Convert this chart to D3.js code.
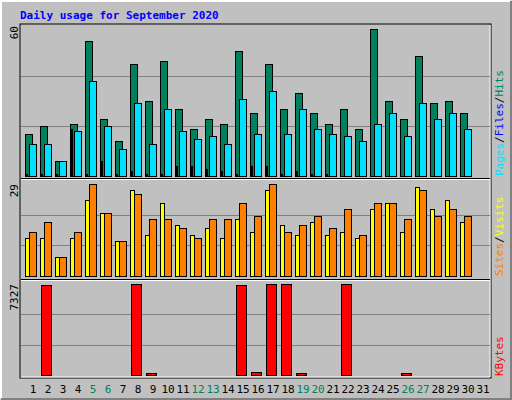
<!DOCTYPE html>
<html>
<head>
<meta charset="UTF-8" />
<script src="https://cdn.jsdelivr.net/npm/d3@7/dist/d3.min.js"></script>
<style>
  body { margin: 0; }
  svg { display: block; font-family: 'DejaVu Sans Mono', monospace; }
</style>
</head>
<body>
<svg id="svgBox" width="512" height="400"></svg>
<script>
  const days = d3.range(1, 32)
  const weekends = [5, 6, 12, 13, 19, 20, 26, 27]
  const hits = [17,20,6,21,54,23,14,45,30,46,27,19,23,21,50,25,45,27,33,25,21,27,19,59,30,23,48,29,30,25,0]
  const files = [13,13,6,18,38,20,11,29,13,27,18,15,16,13,31,17,34,17,27,19,17,16,14,21,25,16,29,23,25,19,0]
  const pages = [1,1,0,1,19,1,0,6,1,0,2,0,1,0,1,4,4,3,2,1,0,4,4,0,1,2,0,1,1,0,0]
  const sites = [12,12,6,12,24,20,11,27,13,23,16,13,15,12,18,14,27,16,13,17,13,14,12,21,23,14,28,21,24,17,0]
  const visits = [14,17,6,14,29,20,11,26,18,18,15,12,18,18,23,19,29,14,16,19,15,21,13,23,23,18,27,19,21,19,0]
  const kbytes = [0,7250,0,0,0,0,0,7327,160,0,0,0,0,0,7250,270,7327,7327,160,0,0,7327,0,0,0,160,0,0,0,0,0]
  const maxLabels = ['60', '29', '7327']

  const svg = d3.select('#svgBox')
  svg.append('rect').attr('width', 512).attr('height', 400).attr('fill', '#c0c0c0')
  // outer bevel
  svg.append('path').attr('d', 'M1,399V1H511').attr('stroke', '#fff').attr('fill', 'none').attr('stroke-width', 2)
  svg.append('path').attr('d', 'M1,399H511V1').attr('stroke', '#808080').attr('fill', 'none').attr('stroke-width', 2)
  svg.append('text').attr('x', 20).attr('y', 19).text('Daily usage for September 2020')
    .attr('fill', '#0000ff').attr('font-weight', 'bold').attr('font-size', 11)

  const x = d3.scaleBand().domain(days).range([21, 486]).paddingInner(0)
  // inner plot frame
  svg.append('rect').attr('x', 20).attr('y', 24).attr('width', 471).attr('height', 354)
    .attr('fill', 'none').attr('stroke', '#000')
  svg.append('path').attr('d', 'M21,377H490V25').attr('stroke', '#fff').attr('fill', 'none')

  const panels = [
    { top: 26, bottom: 176, max: 60 },
    { top: 184, bottom: 276, max: 29 },
    { top: 284, bottom: 375, max: 7327 }
  ]
  const ys = panels.map(p => d3.scaleLinear().domain([0, p.max]).range([p.bottom, p.top]))

  panels.forEach((p, i) => {
    const y = ys[i]
    ;[1 / 3, 2 / 3].forEach(f => {
      svg.append('line').attr('x1', 21).attr('x2', 490)
        .attr('y1', Math.round(y(p.max * f)) + 0.5).attr('y2', Math.round(y(p.max * f)) + 0.5)
        .attr('stroke', '#808080')
    })
    svg.append('text').attr('transform', `translate(18,${p.top}) rotate(-90)`)
      .attr('text-anchor', 'end').attr('font-size', 11).text(maxLabels[i])
  })
  // panel separators
  ;[179, 280].forEach(yy => {
    svg.append('line').attr('x1', 21).attr('x2', 490).attr('y1', yy - 0.5).attr('y2', yy - 0.5).attr('stroke', '#000')
    svg.append('line').attr('x1', 21).attr('x2', 490).attr('y1', yy + 0.5).attr('y2', yy + 0.5).attr('stroke', '#fff')
  })

  function bars(data, yScale, off, w, fill) {
    svg.append('g').selectAll('rect').data(data).join('rect')
      .filter(d => d >= 0)
      .attr('x', (d, i) => x(days[i]) + off + 0.5)
      .attr('y', d => Math.round(yScale(d)) + 0.5)
      .attr('width', w)
      .attr('height', d => Math.max(0, yScale(0) - Math.round(yScale(d))))
      .attr('fill', fill).attr('stroke', '#000')
  }
  const hitData = hits.map(d => d || -1)
  bars(hitData, ys[0], 4, 7, '#00805c')
  bars(files.map(d => d || -1), ys[0], 8, 7, '#00e0ff')
  bars(pages.map(d => d || -1), ys[0], 5, 1, '#0000ff')
  bars(sites.map(d => d || -1), ys[1], 4, 4, '#ffff00')
  bars(visits.map(d => d || -1), ys[1], 8, 7, '#ff8000')
  bars(kbytes.slice(0, 30), ys[2], 5, 10, '#ff0000')

  // day labels
  svg.append('g').selectAll('text').data(days).join('text')
    .attr('x', d => x(d) + 12).attr('y', 393).attr('text-anchor', 'middle')
    .attr('font-size', 11)
    .attr('fill', d => weekends.includes(d) ? '#00805c' : '#000')
    .text(d => d)

  // right legends
  function legend(yy, parts) {
    const t = svg.append('text').attr('transform', `translate(503,${yy}) rotate(-90)`)
      .attr('font-size', 11)
    parts.forEach(([s, c]) => t.append('tspan').attr('fill', c).text(s))
  }
  legend(176, [['Pages', '#00e0ff'], ['/', '#000'], ['Files', '#0000ff'], ['/', '#000'], ['Hits', '#00805c']])
  legend(276, [['Sites', '#ff8000'], ['/', '#000'], ['Visits', '#ffff00']])
  legend(376, [['KBytes', '#ff0000']])
</script>
</body>
</html>
